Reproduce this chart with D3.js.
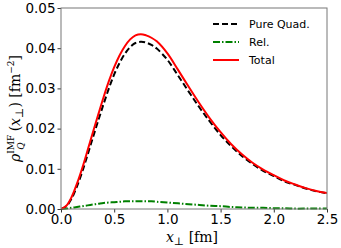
<!DOCTYPE html>
<html>
<head>
<meta charset="utf-8">
<script src="https://cdn.jsdelivr.net/npm/d3@7"></script>
<style>
  body { margin: 0; background: #fff; }
  svg { display: block; }
  .tick text { font-family: "DejaVu Sans", sans-serif; font-size: 13.5px; fill: #000; }
</style>
</head>
<body>
<div id="chart"></div>
<script>
// x_perp grid [fm], denser near the origin where the curves bend
const xs = [0, 0.05, 0.1, 0.15, 0.2, 0.25, 0.3, 0.35, 0.4, 0.45, 0.5, 0.55,
  0.6, 0.65, 0.7, 0.75, 0.8, 0.85, 0.9, 1.0, 1.1, 1.2, 1.3, 1.4, 1.5, 1.6,
  1.7, 1.8, 1.9, 2.0, 2.1, 2.2, 2.3, 2.4, 2.5];

const pureQuad = [0, 0.0007, 0.0026, 0.0056, 0.0093, 0.0135, 0.0178, 0.0220,
  0.0261, 0.0300, 0.0335, 0.0363, 0.0386, 0.0403, 0.0413, 0.0416, 0.0414,
  0.0408, 0.0399, 0.0371, 0.0332, 0.0292, 0.0253, 0.0217, 0.0184, 0.0156,
  0.0132, 0.0112, 0.0095, 0.0082, 0.0069, 0.0060, 0.0051, 0.0044, 0.0039];
const rel = [0, 0.0001, 0.0003, 0.0005, 0.0007, 0.0009, 0.0011, 0.0013,
  0.0015, 0.0016, 0.0017, 0.0018, 0.0019, 0.0019, 0.0019, 0.0019, 0.0019,
  0.0019, 0.0018, 0.0016, 0.0014, 0.0012, 0.0010, 0.0008, 0.0007, 0.0005,
  0.0004, 0.0003, 0.0003, 0.0002, 0.0002, 0.0001, 0.0001, 0.0001, 0.0001];
const total = [0, 0.0008, 0.0030, 0.0063, 0.0102, 0.0146, 0.0191, 0.0235,
  0.0278, 0.0318, 0.0353, 0.0382, 0.0405, 0.0422, 0.0432, 0.0435, 0.0432,
  0.0426, 0.0417, 0.0387, 0.0346, 0.0304, 0.0263, 0.0225, 0.0191, 0.0161,
  0.0136, 0.0115, 0.0098, 0.0084, 0.0071, 0.0061, 0.0052, 0.0045, 0.0040];

const xTicks = [0, 0.5, 1.0, 1.5, 2.0, 2.5];
const yTicks = [0, 0.01, 0.02, 0.03, 0.04, 0.05];

const series = [
  { name: 'Pure Quad.', values: pureQuad, color: '#000', width: 2, dash: '6,3' },
  { name: 'Rel.', values: rel, color: 'green', width: 2, dash: '7,2,1.5,2' },
  { name: 'Total', values: total, color: 'red', width: 2, dash: null }
];

const width = 341, height = 248;
const margin = { top: 8, right: 14, bottom: 39, left: 61 };

const svg = d3.select('#chart').append('svg')
  .attr('width', width).attr('height', height);

const x = d3.scaleLinear().domain([0, 2.5]).range([margin.left, width - margin.right]);
const y = d3.scaleLinear().domain([0, 0.05]).range([height - margin.bottom, margin.top]);

const line = d3.line().curve(d3.curveCatmullRom.alpha(0.5));

const plot = svg.append('g');
plot.append('clipPath').attr('id', 'clip').append('rect')
  .attr('x', margin.left).attr('y', margin.top - 2)
  .attr('width', x.range()[1] - margin.left)
  .attr('height', y.range()[0] - margin.top + 4);

series.forEach(s => {
  plot.append('path')
    .attr('clip-path', 'url(#clip)')
    .attr('fill', 'none')
    .attr('stroke', s.color)
    .attr('stroke-width', s.width)
    .attr('stroke-dasharray', s.dash)
    .attr('d', line(xs.map((v, i) => [x(v), y(s.values[i])])));
});

// axes
const xAxis = svg.append('g')
  .attr('transform', `translate(0,${y.range()[0]})`)
  .call(d3.axisBottom(x).tickValues(xTicks).tickFormat(d3.format('.1f')).tickSizeOuter(0).tickSize(3.5).tickPadding(2));
const yAxis = svg.append('g')
  .attr('transform', `translate(${margin.left},0)`)
  .call(d3.axisLeft(y).tickValues(yTicks).tickFormat(d3.format('.2f')).tickSizeOuter(0).tickSize(3.5).tickPadding(2));
[xAxis, yAxis].forEach(a => {
  a.select('.domain').remove();
  a.selectAll('.tick line').attr('stroke', '#000').attr('stroke-width', 0.8);
});

// frame
svg.append('rect')
  .attr('x', margin.left).attr('y', margin.top)
  .attr('width', x.range()[1] - margin.left)
  .attr('height', y.range()[0] - margin.top)
  .attr('fill', 'none').attr('stroke', '#777').attr('stroke-width', 1);

// x label
const xl = svg.append('text')
  .attr('x', (x.range()[0] + x.range()[1]) / 2 - 2).attr('y', 242)
  .attr('text-anchor', 'middle')
  .style('font-family', '"DejaVu Serif", serif').style('font-size', '14px');
xl.append('tspan').style('font-style', 'italic').text('x');
xl.append('tspan').attr('dy', 3).style('font-size', '11px').text('⊥');
xl.append('tspan').attr('dy', -3).text(' [fm]');

// y label
const yl = svg.append('text')
  .attr('transform', `translate(20,${(y.range()[0] + y.range()[1]) / 2}) rotate(-90)`)
  .attr('text-anchor', 'middle')
  .style('font-family', '"DejaVu Serif", serif').style('font-size', '14px');
yl.append('tspan').style('font-style', 'italic').text('ρ');
yl.append('tspan').attr('dy', -6).style('font-size', '9px').text('IMF');
yl.append('tspan').attr('dx', -15).attr('dy', 10).style('font-size', '9px').style('font-style', 'italic').text('Q');
yl.append('tspan').attr('dx', 11).attr('dy', -4).text('(');
yl.append('tspan').style('font-style', 'italic').text('x');
yl.append('tspan').attr('dy', 3).style('font-size', '11px').text('⊥');
yl.append('tspan').attr('dy', -3).text(') [fm');
yl.append('tspan').attr('dy', -6).style('font-size', '9px').text('−2');
yl.append('tspan').attr('dy', 6).text(']');

// legend
const legend = svg.append('g').attr('transform', 'translate(213,24)');
series.forEach((s, i) => {
  const g = legend.append('g').attr('transform', `translate(0,${i * 18})`);
  g.append('line')
    .attr('x1', 0).attr('x2', 26).attr('y1', 0).attr('y2', 0)
    .attr('stroke', s.color).attr('stroke-width', s.width)
    .attr('stroke-dasharray', s.dash);
  g.append('text')
    .attr('x', 36).attr('y', 4)
    .style('font-family', '"DejaVu Sans", sans-serif').style('font-size', '11px')
    .text(s.name);
});
</script>
</body>
</html>
